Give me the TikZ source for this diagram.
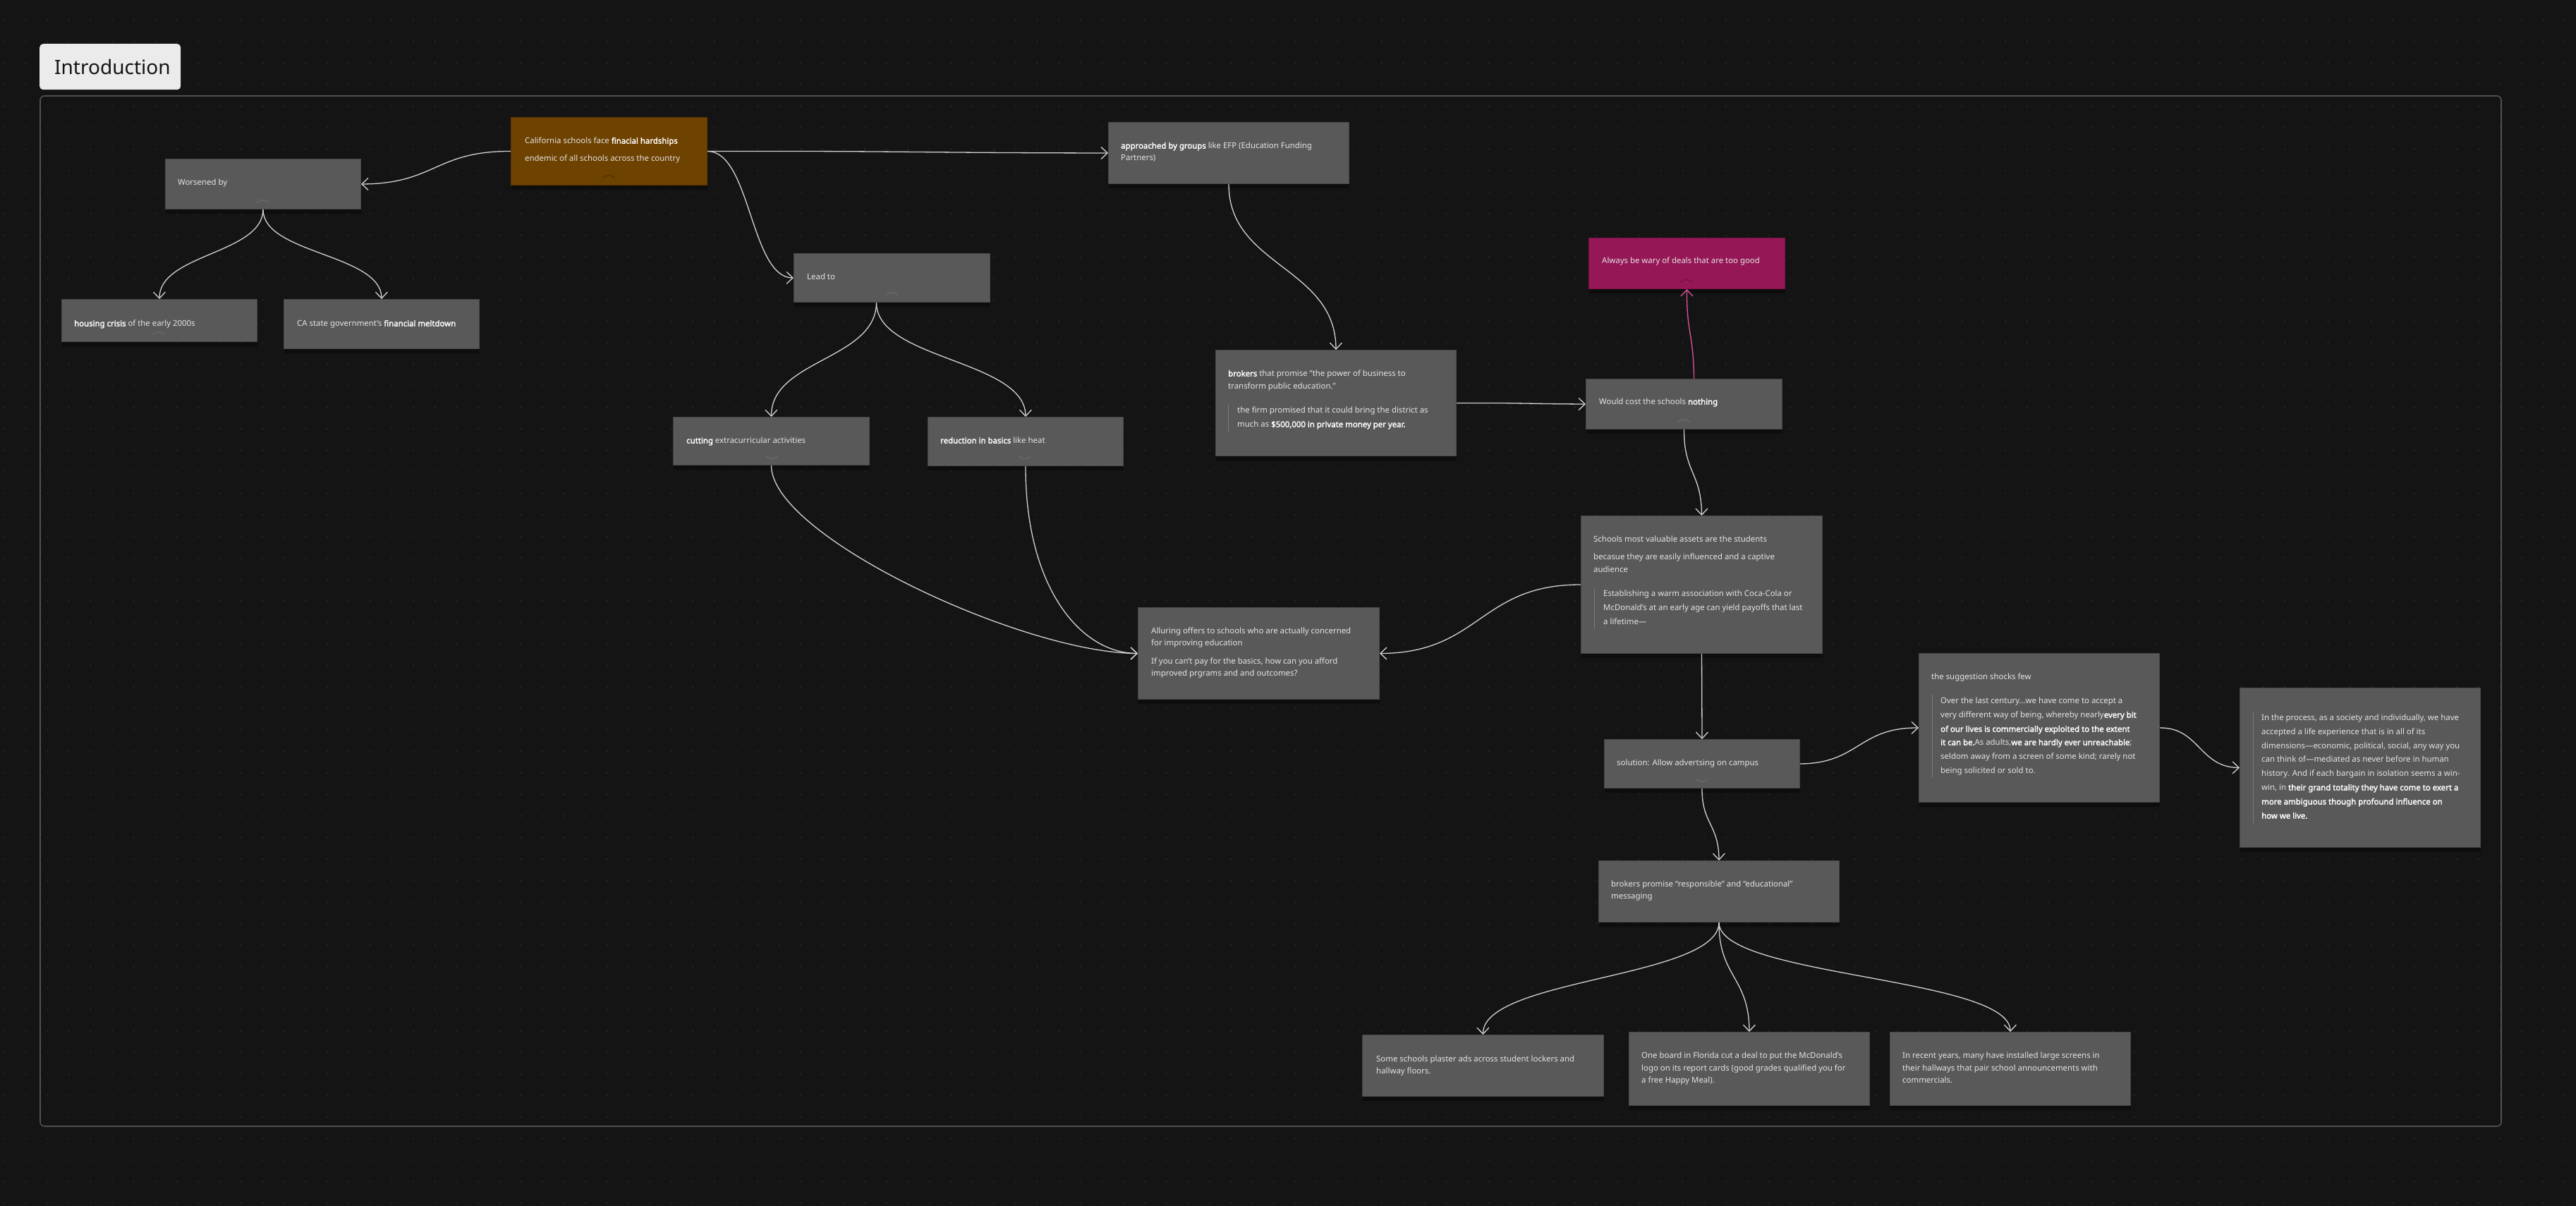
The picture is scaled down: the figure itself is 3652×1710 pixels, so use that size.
\documentclass[tikz,border=0pt]{standalone}
\usepackage{fontspec}
\setmainfont{Noto Sans}[BoldFont={Noto Sans}, BoldFeatures={FakeBold=2.2}]
\usetikzlibrary{arrows.meta,shadows}
\definecolor{bgc}{HTML}{141414}
\definecolor{dotc}{HTML}{262626}
\definecolor{boxfill}{HTML}{595959}
\definecolor{boxline}{HTML}{474747}
\definecolor{orangec}{HTML}{6E4200}
\definecolor{orangeline}{HTML}{5C3700}
\definecolor{pinkc}{HTML}{951756}
\definecolor{pinkline}{HTML}{7E1248}
\definecolor{pinkarrow}{HTML}{E0559B}
\definecolor{introc}{HTML}{EBEBEB}
\definecolor{framec}{HTML}{505050}
\definecolor{txtc}{HTML}{E4E4E4}
\definecolor{linec}{HTML}{D2D2D2}
\definecolor{barc}{HTML}{7A7A7A}
\definecolor{chevg}{HTML}{646464}
\definecolor{chevo}{HTML}{5A3600}
\definecolor{chevp}{HTML}{801249}
\newcommand\fsz{\fontsize{11.4pt}{14pt}\selectfont}
\newcommand\bb[1]{\textbf{\color{white}#1}}
\begin{document}
\begin{tikzpicture}[x=1pt,y=-1pt,
  box/.style={draw=boxline, fill=boxfill, line width=1pt, inner sep=0pt, anchor=north west,
    drop shadow={shadow xshift=0pt, shadow yshift=-6pt, opacity=0.35, fill=black}},
  txt/.style={anchor=mid west, inner sep=0pt, text=txtc, font=\fsz},
  conn/.style={draw=linec, line width=1.3pt, -{Straight Barb[length=9pt,width=17pt]}},
  qbar/.style={draw=barc, line width=1pt},
  chev/.style={line width=2.2pt, line cap=round}
]
% background and dot grid
\fill[bgc] (0,0) rectangle (3652,1710);
\useasboundingbox (0,0) rectangle (3652,1710);
\foreach \j in {0,...,55} {
  \fill[dotc] foreach \i in {0,...,119} { (6.5+30.5*\i, 28.5+30.5*\j) circle[radius=1.4pt] };
}

% title and frame
\node[fill=introc, rounded corners=5pt, minimum width=200pt, minimum height=65pt, anchor=north west, inner sep=0pt] (intro) at (56,62) {};
\node[anchor=base west, inner sep=0pt, text=black!92, font=\fontsize{28pt}{30pt}\selectfont] (introT) at (77,106) {Introduction};
\draw[framec, line width=1.6pt, rounded corners=6pt] (57,136) rectangle (3546,1597);

% boxes
\node[box, fill=orangec, draw=orangeline, minimum width=278pt, minimum height=96pt] (cal) at (724,166) {};
\node[box, minimum width=277pt, minimum height=71pt] (wor) at (234,225) {};
\node[box, minimum width=277pt, minimum height=60pt] (hou) at (87,424) {};
\node[box, minimum width=277pt, minimum height=70pt] (cas) at (402,424) {};
\node[box, minimum width=341pt, minimum height=87pt] (app) at (1571,173) {};
\node[box, minimum width=278pt, minimum height=69pt] (lead) at (1125,359) {};
\node[box, minimum width=278pt, minimum height=68pt] (cut) at (954,591) {};
\node[box, minimum width=277pt, minimum height=69pt] (red) at (1315,591) {};
\node[box, minimum width=341pt, minimum height=150pt] (bro) at (1723,496) {};
\node[box, fill=pinkc, draw=pinkline, minimum width=278pt, minimum height=72pt] (alw) at (2252,337) {};
\node[box, minimum width=278pt, minimum height=71pt] (wou) at (2248,537) {};
\node[box, minimum width=342pt, minimum height=195pt] (sch) at (2241,731) {};
\node[box, minimum width=342pt, minimum height=130pt] (all) at (1613,861) {};
\node[box, minimum width=277pt, minimum height=69pt] (sol) at (2274,1048) {};
\node[box, minimum width=341pt, minimum height=211pt] (sug) at (2720,926) {};
\node[box, minimum width=341pt, minimum height=226pt] (las) at (3175,975) {};
\node[box, minimum width=341pt, minimum height=87pt] (bpr) at (2266,1220) {};
\node[box, minimum width=342pt, minimum height=87pt] (som) at (1931,1467) {};
\node[box, minimum width=341pt, minimum height=104pt] (one) at (2309,1463) {};
\node[box, minimum width=341pt, minimum height=104pt] (rec) at (2679,1463) {};

% faint collapse chevrons
\draw[chev, chevo] (855,252) .. controls (860,247.5) and (866,247.5) .. (871,252);
\draw[chev, chevg] (364,287) .. controls (369,282.5) and (375,282.5) .. (380,287);
\draw[chev, chevg] (217,474) .. controls (222,469.5) and (228,469.5) .. (233,474);
\draw[chev, chevg] (1256,418) .. controls (1261,413.5) and (1267,413.5) .. (1272,418);
\draw[chev, chevg] (1086,647) .. controls (1091,651.5) and (1097,651.5) .. (1102,647);
\draw[chev, chevg] (1445,647) .. controls (1450,651.5) and (1456,651.5) .. (1461,647);
\draw[chev, chevp] (2383,400) .. controls (2388,395.5) and (2394,395.5) .. (2399,400);
\draw[chev, chevg] (2379,598) .. controls (2384,593.5) and (2390,593.5) .. (2395,598);
\draw[chev, chevg] (2405,1105) .. controls (2410,1109.5) and (2416,1109.5) .. (2421,1105);

% texts
\node[txt] (calT1) at (744,201) {California schools face \bb{finacial hardships}};
\node[txt] (calT2) at (744,226) {endemic of all schools across the country};
\node[txt] (worT) at (252,260) {Worsened by};
\node[txt] (houT) at (105,460) {\bb{housing crisis} of the early 2000s};
\node[txt] (casT) at (421,460) {CA state government’s \bb{financial meltdown}};
\node[txt] (appT1) at (1589,208) {\bb{approached by groups} like EFP (Education Funding};
\node[txt] (appT2) at (1589,225) {Partners)};
\node[txt] (leadT) at (1144,394) {Lead to};
\node[txt] (cutT) at (973,626) {\bb{cutting} extracurricular activities};
\node[txt] (redT) at (1333,626) {\bb{reduction in basics} like heat};
\node[txt] (broT1) at (1741,531) {\bb{brokers} that promise “the power of business to};
\node[txt] (broT2) at (1741,549) {transform public education.”};
\draw[qbar] (1741,573) -- (1741,612);
\node[txt] (broQ1) at (1754,583) {the firm promised that it could bring the district as};
\node[txt] (broQ2) at (1754,603) {much as \bb{\$500,000 in private money per year.}};
\node[txt] (alwT) at (2271,371) {Always be wary of deals that are too good};
\node[txt] (wouT) at (2267,571) {Would cost the schools \bb{nothing}};
\node[txt] (schT1) at (2259,766) {Schools most valuable assets are the students};
\node[txt] (schT2) at (2259,791) {becasue they are easily influenced and a captive};
\node[txt] (schT3) at (2259,809) {audience};
\draw[qbar] (2260,834) -- (2260,892);
\node[txt] (schQ1) at (2273,843) {Establishing a warm association with Coca-Cola or};
\node[txt] (schQ2) at (2273,863) {McDonald’s at an early age can yield payoffs that last};
\node[txt] (schQ3) at (2273,883) {a lifetime—};
\node[txt] (allT1) at (1632,896) {Alluring offers to schools who are actually concerned};
\node[txt] (allT2) at (1632,913) {for improving education};
\node[txt] (allT3) at (1632,939) {If you can’t pay for the basics, how can you afford};
\node[txt] (allT4) at (1632,956) {improved prgrams and and outcomes?};
\node[txt] (solT) at (2292,1083) {solution: Allow advertsing on campus};
\node[txt] (sugT) at (2738,961) {the suggestion shocks few};
\draw[qbar] (2739,985) -- (2739,1103);
\node[txt] (sugQ1) at (2751,995) {Over the last century…we have come to accept a};
\node[txt] (sugQ2) at (2751,1015) {very different way of being, whereby nearly\bb{every bit}};
\node[txt] (sugQ3) at (2751,1035) {\bb{of our lives is commercially exploited to the extent}};
\node[txt] (sugQ4) at (2751,1054) {\bb{it can be.}As adults,\bb{we are hardly ever unreachable};};
\node[txt] (sugQ5) at (2751,1074) {seldom away from a screen of some kind; rarely not};
\node[txt] (sugQ6) at (2751,1094) {being solicited or sold to.};
\draw[qbar] (3194,1009) -- (3194,1167);
\node[txt] (lasQ1) at (3206,1019) {In the process, as a society and individually, we have};
\node[txt] (lasQ2) at (3206,1039) {accepted a life experience that is in all of its};
\node[txt] (lasQ3) at (3206,1059) {dimensions—economic, political, social, any way you};
\node[txt] (lasQ4) at (3206,1078) {can think of—mediated as never before in human};
\node[txt] (lasQ5) at (3206,1098) {history. And if each bargain in isolation seems a win-};
\node[txt] (lasQ6) at (3206,1118) {win, in \bb{their grand totality they have come to exert a}};
\node[txt] (lasQ7) at (3206,1138) {\bb{more ambiguous though profound influence on}};
\node[txt] (lasQ8) at (3206,1158) {\bb{how we live.}};
\node[txt] (bprT1) at (2284,1255) {brokers promise “responsible” and “educational”};
\node[txt] (bprT2) at (2284,1272) {messaging};
\node[txt] (somT1) at (1951,1503) {Some schools plaster ads across student lockers and};
\node[txt] (somT2) at (1951,1520) {hallway floors.};
\node[txt] (oneT1) at (2327,1498) {One board in Florida cut a deal to put the McDonald’s};
\node[txt] (oneT2) at (2327,1516) {logo on its report cards (good grades qualified you for};
\node[txt] (oneT3) at (2327,1533) {a free Happy Meal).};
\node[txt] (recT1) at (2697,1498) {In recent years, many have installed large screens in};
\node[txt] (recT2) at (2697,1516) {their hallways that pair school announcements with};
\node[txt] (recT3) at (2697,1533) {commercials.};

% connectors
\draw[conn] (cal.west) .. controls (617,214) and (617,260.5) .. (wor.east);
\draw[conn] (wor.south) .. controls (372.5,360) and (225.5,360) .. (hou.north);
\draw[conn] (wor.south) .. controls (372.5,360) and (540.5,360) .. (cas.north);
\draw[conn] (cal.east) .. controls (1286,214) and (1286,216.5) .. (app.west);
\draw[conn] (cal.east) .. controls (1064,214) and (1064,393.5) .. (lead.west);
\draw[conn] ([xshift=-22pt]lead.south) .. controls (1242,510) and (1093,510) .. (cut.north);
\draw[conn] ([xshift=-22pt]lead.south) .. controls (1242,510) and (1453.5,510) .. (red.north);
\draw[conn] (app.south) .. controls (1741.5,378) and (1893.5,378) .. (bro.north);
\draw[conn] (bro.east) .. controls (2156,571) and (2156,572.5) .. (wou.west);
\draw[conn, draw=pinkarrow] ([xshift=14pt]wou.north) .. controls (2401,473) and (2391,473) .. (alw.south);
\draw[conn] (wou.south) .. controls (2387,670) and (2412,670) .. (sch.north);
\draw[conn] (cut.south) .. controls (1093,760) and (1450,926) .. (all.west);
\draw[conn] (red.south) .. controls (1453.5,830) and (1530,926) .. (all.west);
\draw[conn] (sch.west) .. controls (2098,828.5) and (2098,926) .. (all.east);
\draw[conn] (sch.south) -- (sol.north);
\draw[conn] (sol.east) .. controls (2635,1082.5) and (2635,1031.5) .. (sug.west);
\draw[conn] (sug.east) .. controls (3118,1031.5) and (3118,1088) .. (las.west);
\draw[conn] (sol.south) .. controls (2412.5,1168) and (2436.5,1168) .. (bpr.north);
\draw[conn] (bpr.south) .. controls (2436.5,1387) and (2102,1387) .. (som.north);
\draw[conn] (bpr.south) .. controls (2436.5,1385) and (2479.5,1385) .. (one.north);
\draw[conn] (bpr.south) .. controls (2436.5,1385) and (2849.5,1385) .. (rec.north);
\end{tikzpicture}
\end{document}
